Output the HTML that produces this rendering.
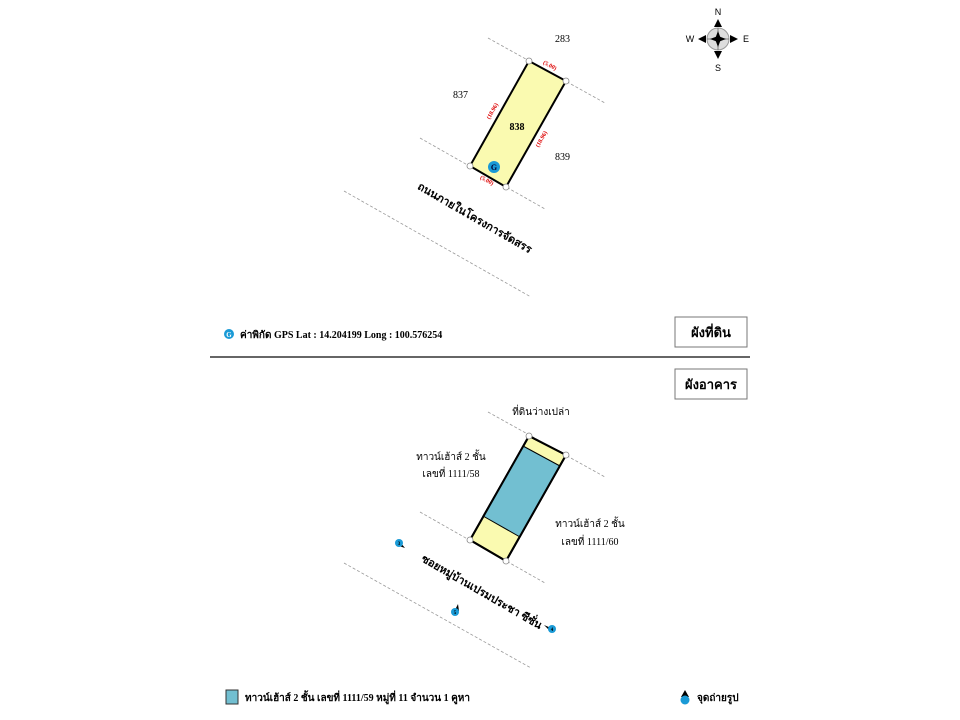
<!DOCTYPE html>
<html><head><meta charset="utf-8"><style>
html,body{margin:0;padding:0;background:#fff;}
svg{display:block;font-family:"Liberation Serif","Noto Serif CJK SC","Noto Sans CJK SC",serif;}
</style></head><body>
<svg width="960" height="720" viewBox="0 0 960 720" xmlns="http://www.w3.org/2000/svg">
<g stroke="#999" stroke-width="0.8" stroke-dasharray="3,2" fill="none">
<line x1="488" y1="38" x2="605" y2="103"/>
<line x1="420" y1="138" x2="545" y2="209"/>
<line x1="344" y1="191" x2="531" y2="297"/>
<line x1="488" y1="412" x2="605" y2="477"/>
<line x1="420" y1="512" x2="545" y2="583"/>
<line x1="344" y1="563" x2="531" y2="668"/>
</g>
<polygon points="529,61 566,81 506,187 470,166" fill="#fafab0" stroke="#000" stroke-width="2"/>
<g fill="#fff" stroke="#888" stroke-width="0.8">
<circle cx="529" cy="61" r="3"/><circle cx="566" cy="81" r="3"/><circle cx="506" cy="187" r="3"/><circle cx="470" cy="166" r="3"/>
</g>
<text x="517" y="130" font-size="10" font-weight="bold" text-anchor="middle">838</text>
<text x="555" y="42" font-size="10">283</text>
<text x="453" y="98" font-size="10">837</text>
<text x="555" y="160" font-size="10">839</text>
<g fill="#d00" font-size="6" font-weight="bold" text-anchor="middle">
<text transform="translate(549,67) rotate(28)">(5.00)</text>
<text transform="translate(486,182) rotate(28)">(5.00)</text>
<text transform="translate(494,112) rotate(-60)">(18.96)</text>
<text transform="translate(543,140) rotate(-60)">(18.96)</text>
</g>
<circle cx="494" cy="167" r="6" fill="#1a9ad6"/>
<text x="494" y="170" font-size="8" font-weight="bold" text-anchor="middle" fill="#003">G</text>
<text transform="translate(473,221) rotate(30)" font-size="11" font-weight="bold" text-anchor="middle">ถนนภายในโครงการจัดสรร</text>
<g transform="translate(718,39)">
<circle r="11" fill="#ddd" stroke="#999" stroke-width="1"/>
<line x1="-11" y1="0" x2="11" y2="0" stroke="#666" stroke-width="0.8"/>
<line x1="0" y1="-11" x2="0" y2="11" stroke="#666" stroke-width="0.8"/>
<polygon points="0,-8 3,0 0,8 -3,0" fill="#000"/>
<polygon points="-8,0 0,-3 8,0 0,3" fill="#000"/>
<polygon points="0,-20 -4,-12 4,-12" fill="#000"/>
<polygon points="0,20 -4,12 4,12" fill="#000"/>
<polygon points="-20,0 -12,-4 -12,4" fill="#000"/>
<polygon points="20,0 12,-4 12,4" fill="#000"/>
<g font-family="Liberation Sans,sans-serif" font-size="9" text-anchor="middle">
<text x="0" y="-24">N</text><text x="0" y="32">S</text><text x="-28" y="3">W</text><text x="28" y="3">E</text>
</g>
</g>
<circle cx="229" cy="334" r="5" fill="#1a9ad6"/>
<text x="229" y="337" font-size="7" font-weight="bold" text-anchor="middle" fill="#fff">G</text>
<text x="240" y="338" font-size="10" font-weight="bold">ค่าพิกัด GPS Lat : 14.204199 Long : 100.576254</text>
<rect x="675" y="317" width="72" height="30" fill="#fff" stroke="#777" stroke-width="1"/>
<text x="711" y="337" font-size="13" font-weight="bold" text-anchor="middle">ผังที่ดิน</text>
<line x1="210" y1="357" x2="750" y2="357" stroke="#333" stroke-width="1.5"/>
<rect x="675" y="369" width="72" height="30" fill="#fff" stroke="#777" stroke-width="1"/>
<text x="711" y="389" font-size="13" font-weight="bold" text-anchor="middle">ผังอาคาร</text>
<polygon points="529,436 566,455 506,561 470,540" fill="#fafab0" stroke="#000" stroke-width="2"/>
<polygon points="523,446 560,466 520,537 483,516" fill="#72bfd1" stroke="#000" stroke-width="1"/>
<polygon points="529,436 566,455 506,561 470,540" fill="none" stroke="#000" stroke-width="2"/>
<g fill="#fff" stroke="#888" stroke-width="0.8">
<circle cx="529" cy="436" r="3"/><circle cx="566" cy="455" r="3"/><circle cx="506" cy="561" r="3"/><circle cx="470" cy="540" r="3"/>
</g>
<g font-size="10" text-anchor="middle">
<text x="541" y="415">ที่ดินว่างเปล่า</text>
<text x="451" y="460">ทาวน์เฮ้าส์ 2 ชั้น</text>
<text x="451" y="477">เลขที่ 1111/58</text>
<text x="590" y="527">ทาวน์เฮ้าส์ 2 ชั้น</text>
<text x="590" y="545">เลขที่ 1111/60</text>
</g>
<text transform="translate(480,595) rotate(30)" font-size="11" font-weight="bold" text-anchor="middle">ซอยหมู่บ้านเปรมประชา ซีซั่น</text>
<g font-size="5" font-weight="bold" text-anchor="middle">
<polygon points="400,542 405,548 399,546" fill="#000"/><circle cx="399" cy="543" r="4" fill="#1a9ad6"/><text x="399" y="545">3</text>
<polygon points="455,610 458,604 459,611" fill="#000"/><circle cx="455" cy="612" r="4" fill="#1a9ad6"/><text x="455" y="614">5</text>
<polygon points="551,628 544,625 550,631" fill="#000"/><circle cx="552" cy="629" r="4" fill="#1a9ad6"/><text x="552" y="631">4</text>
</g>
<rect x="226" y="690" width="12" height="14" fill="#72bfd1" stroke="#333" stroke-width="1"/>
<text x="245" y="701" font-size="10" font-weight="bold">ทาวน์เฮ้าส์ 2 ชั้น เลขที่ 1111/59 หมู่ที่ 11 จำนวน 1 คูหา</text>
<polygon points="685,690 681,697 689,697" fill="#000"/>
<circle cx="685" cy="700" r="4.5" fill="#1a9ad6"/>
<text x="697" y="701" font-size="10" font-weight="bold">จุดถ่ายรูป</text>
</svg>
</body></html>
